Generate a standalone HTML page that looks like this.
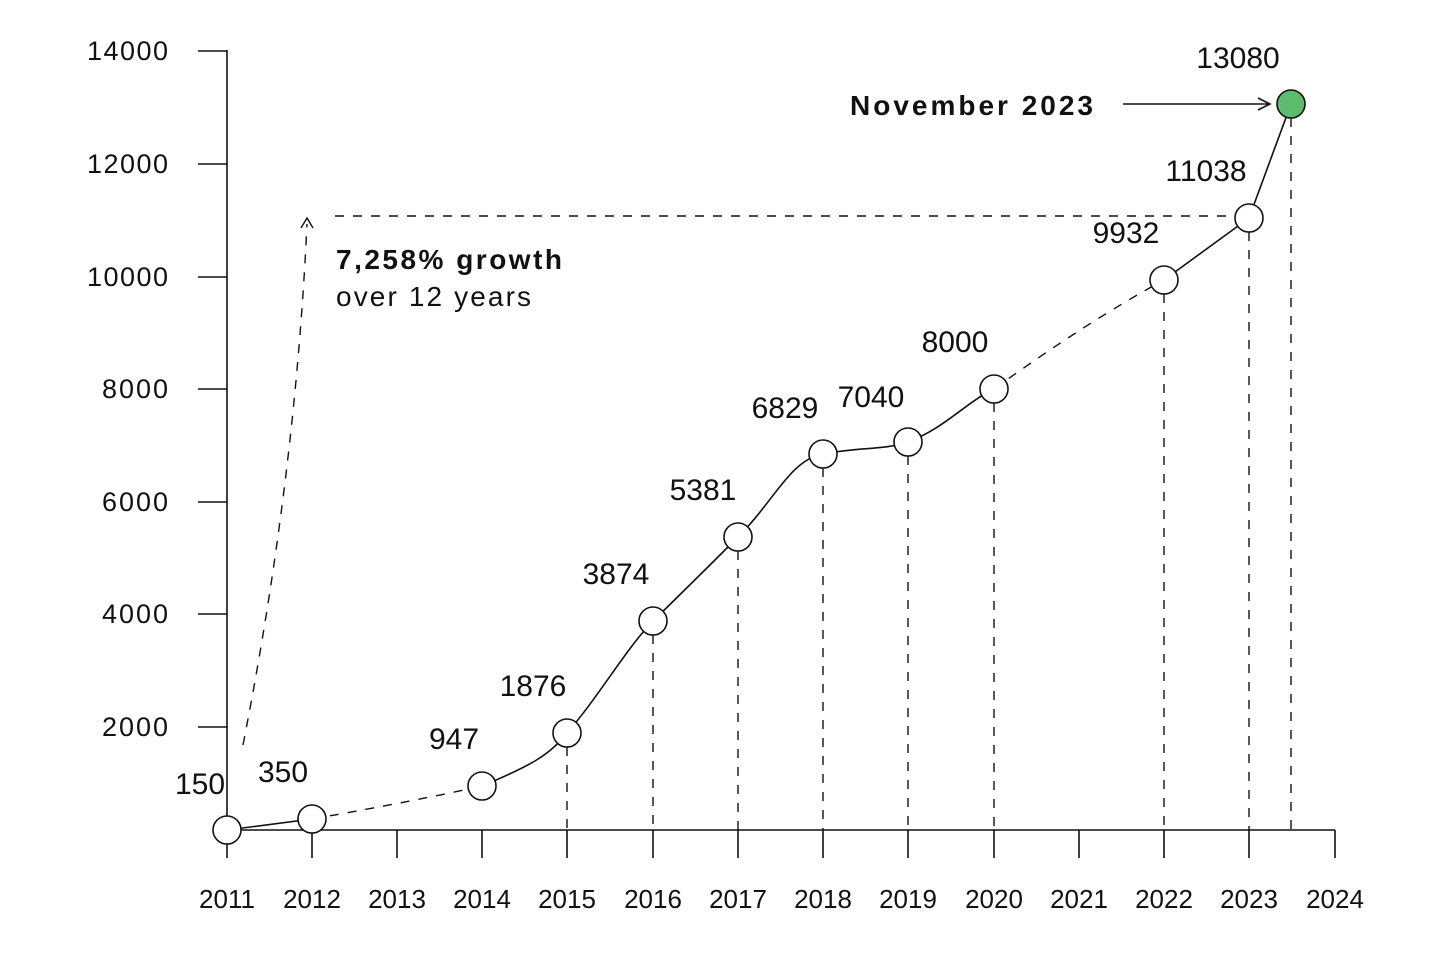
<!DOCTYPE html>
<html><head><style>
html,body{margin:0;padding:0;background:#fff;}
svg text{font-family:"Liberation Sans",sans-serif;fill:#111;}
</style></head><body>
<svg width="1456" height="948" viewBox="0 0 1456 948" xmlns="http://www.w3.org/2000/svg">
<g stroke="#111" stroke-width="1.6" fill="none">
<line x1="227" y1="50" x2="227" y2="858"/>
<line x1="227" y1="830" x2="1335" y2="830"/>
<line x1="198" y1="51" x2="227" y2="51"/>
<line x1="198" y1="164" x2="227" y2="164"/>
<line x1="198" y1="277" x2="227" y2="277"/>
<line x1="198" y1="389" x2="227" y2="389"/>
<line x1="198" y1="502" x2="227" y2="502"/>
<line x1="198" y1="614" x2="227" y2="614"/>
<line x1="198" y1="727" x2="227" y2="727"/>
<line x1="312" y1="830" x2="312" y2="858"/><line x1="397" y1="830" x2="397" y2="858"/>
<line x1="482" y1="830" x2="482" y2="858"/><line x1="567" y1="830" x2="567" y2="858"/>
<line x1="653" y1="830" x2="653" y2="858"/><line x1="738" y1="830" x2="738" y2="858"/>
<line x1="823" y1="830" x2="823" y2="858"/><line x1="908" y1="830" x2="908" y2="858"/>
<line x1="994" y1="830" x2="994" y2="858"/><line x1="1079" y1="830" x2="1079" y2="858"/>
<line x1="1164" y1="830" x2="1164" y2="858"/><line x1="1249" y1="830" x2="1249" y2="858"/>
<line x1="1335" y1="830" x2="1335" y2="858"/>
</g>
<g stroke="#111" stroke-width="1.4" fill="none" stroke-dasharray="9,9">
<line x1="567" y1="747" x2="567" y2="830"/><line x1="653" y1="635" x2="653" y2="830"/>
<line x1="738" y1="551" x2="738" y2="830"/><line x1="823" y1="468" x2="823" y2="830"/>
<line x1="908" y1="456" x2="908" y2="830"/><line x1="994" y1="403" x2="994" y2="830"/>
<line x1="1164" y1="294" x2="1164" y2="830"/><line x1="1249" y1="232" x2="1249" y2="830"/>
<line x1="1291" y1="118" x2="1291" y2="830"/>
<line x1="335" y1="216" x2="1249" y2="216"/>
<path d="M243 745 Q295 480 307 224"/>
<path d="M312 819 Q420 800 482 786"/>
<path d="M994 389 Q1090 320 1164 280"/>
</g>
<path d="M301 228 L307 218 L313 228" stroke="#111" stroke-width="1.4" fill="none"/>
<g stroke="#111" stroke-width="1.6" fill="none">
<path d="M227 830 L312 819"/>
<path d="M482 786 C530 766 550 755 567 733 C600 695 625 650 653 621 C690 585 710 565 738 537 C775 500 790 460 823 454 C860 447 885 450 908 442 C945 428 965 403 994 389"/>
<path d="M1164 280 L1249 218 L1291 104"/>
<line x1="1123" y1="104" x2="1268" y2="104"/>
<path d="M1258 98 L1270 104 L1258 110"/>
</g>
<g stroke="#111" stroke-width="1.6" fill="#fff">
<circle cx="227" cy="830" r="14"/><circle cx="312" cy="819" r="14"/>
<circle cx="482" cy="786" r="14"/><circle cx="567" cy="733" r="14"/>
<circle cx="653" cy="621" r="14"/><circle cx="738" cy="537" r="14"/>
<circle cx="823" cy="454" r="14"/><circle cx="908" cy="442" r="14"/>
<circle cx="994" cy="389" r="14"/><circle cx="1164" cy="280" r="14"/>
<circle cx="1249" cy="218" r="14"/>
<circle cx="1291" cy="104" r="14" fill="#5dbb6e"/>
</g>
<g font-size="27" text-anchor="end">
<text x="168" y="60" textLength="81" lengthAdjust="spacing">14000</text><text x="168" y="173" textLength="81" lengthAdjust="spacing">12000</text>
<text x="168" y="286" textLength="81" lengthAdjust="spacing">10000</text><text x="168" y="398" textLength="66" lengthAdjust="spacing">8000</text>
<text x="168" y="511" textLength="66" lengthAdjust="spacing">6000</text><text x="168" y="623" textLength="66" lengthAdjust="spacing">4000</text>
<text x="168" y="736" textLength="66" lengthAdjust="spacing">2000</text>
</g>
<g font-size="26" text-anchor="middle">
<text x="227" y="908">2011</text><text x="312" y="908">2012</text><text x="397" y="908">2013</text>
<text x="482" y="908">2014</text><text x="567" y="908">2015</text><text x="653" y="908">2016</text>
<text x="738" y="908">2017</text><text x="823" y="908">2018</text><text x="908" y="908">2019</text>
<text x="994" y="908">2020</text><text x="1079" y="908">2021</text><text x="1164" y="908">2022</text>
<text x="1249" y="908">2023</text><text x="1335" y="908">2024</text>
</g>
<g font-size="30" text-anchor="middle">
<text x="200" y="794">150</text><text x="283" y="782">350</text>
<text x="454" y="749">947</text><text x="533" y="696">1876</text>
<text x="616" y="584">3874</text><text x="703" y="500">5381</text>
<text x="785" y="418">6829</text><text x="871" y="407">7040</text>
<text x="955" y="352">8000</text><text x="1126" y="243">9932</text>
<text x="1206" y="181">11038</text><text x="1238" y="68">13080</text>
</g>
<text x="336" y="269" font-size="28" font-weight="bold" textLength="226" lengthAdjust="spacing">7,258% growth</text>
<text x="336" y="306" font-size="28" textLength="195" lengthAdjust="spacing">over 12 years</text>
<text x="850" y="115" font-size="28" font-weight="bold" textLength="243" lengthAdjust="spacing">November 2023</text>
</svg>
</body></html>
